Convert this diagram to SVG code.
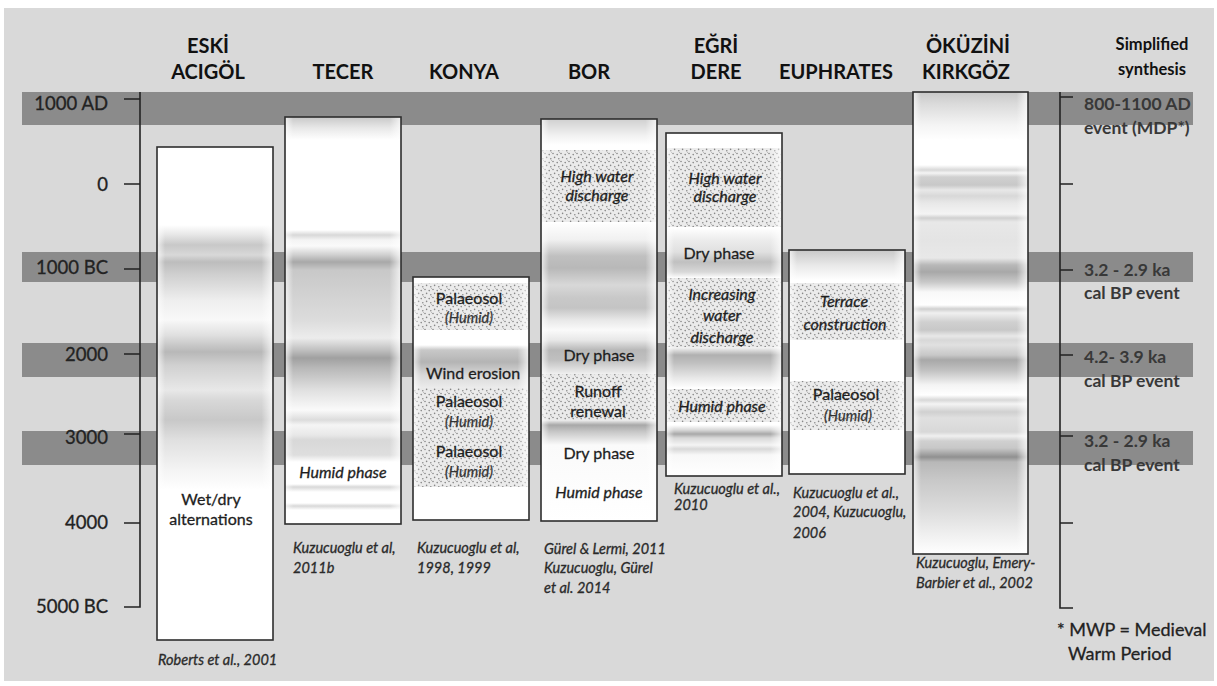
<svg xmlns="http://www.w3.org/2000/svg" width="1217" height="686" viewBox="0 0 1217 686">
<style>
text{font-family:Lato,"Open Sans","Liberation Sans",sans-serif;fill:#1e1e1e}
.hd{font-size:20px;font-weight:bold;text-anchor:middle;fill:#111}
.ax{font-size:18.5px;text-anchor:end;fill:#222;stroke:#222;stroke-width:0.3px}
.syn{font-size:17.5px;font-weight:bold;fill:#383838}
.t{font-size:16px;text-anchor:middle;stroke:#1e1e1e;stroke-width:0.3px}
.ti{font-size:16px;text-anchor:middle;font-style:italic;stroke:#1e1e1e;stroke-width:0.3px}
.hu{font-size:14.5px;text-anchor:middle;font-style:italic;fill:#333;stroke:#333;stroke-width:0.25px}
.cit{font-size:14.5px;font-style:italic;fill:#2a2a2a;stroke:#2a2a2a;stroke-width:0.3px}
.fn{font-size:18px;fill:#222;stroke:#222;stroke-width:0.3px}
.box{stroke:#2e2e2e;stroke-width:1.6}
.band{fill:#8b8b8b}
.line{stroke:#222;stroke-width:1.6;fill:none}
</style>
<defs>
<pattern id="dots" width="8" height="8" patternUnits="userSpaceOnUse">
<rect width="8" height="8" fill="#e9e9e9"/>
<circle cx="1" cy="1.5" r="0.8" fill="#7a7a7a"/>
<circle cx="5.2" cy="2.6" r="0.8" fill="#7a7a7a"/>
<circle cx="2.6" cy="5.4" r="0.8" fill="#7a7a7a"/>
<circle cx="6.8" cy="6.7" r="0.8" fill="#7a7a7a"/>
<circle cx="7.6" cy="0.3" r="0.55" fill="#9a9a9a"/>
</pattern>
<linearGradient id="edge" x1="0" y1="0" x2="1" y2="0">
<stop offset="0" stop-color="#fff" stop-opacity="0.7"/>
<stop offset="0.07" stop-color="#fff" stop-opacity="0"/>
<stop offset="0.9" stop-color="#fff" stop-opacity="0"/>
<stop offset="1" stop-color="#fff" stop-opacity="0.75"/>
</linearGradient>
<linearGradient id="gEski" gradientUnits="userSpaceOnUse" x1="0" y1="0" x2="0" y2="1000">
<stop offset="0.147" stop-color="#fff"/>
<stop offset="0.225" stop-color="#fff"/>
<stop offset="0.235" stop-color="#e6e6e6"/>
<stop offset="0.245" stop-color="#c8c8c8"/>
<stop offset="0.255" stop-color="#d8d8d8"/>
<stop offset="0.262" stop-color="#bdbdbd"/>
<stop offset="0.275" stop-color="#d0d0d0"/>
<stop offset="0.300" stop-color="#eeeeee"/>
<stop offset="0.320" stop-color="#f8f8f8"/>
<stop offset="0.335" stop-color="#e0e0e0"/>
<stop offset="0.352" stop-color="#b8b8b8"/>
<stop offset="0.365" stop-color="#d0d0d0"/>
<stop offset="0.390" stop-color="#e8e8e8"/>
<stop offset="0.400" stop-color="#d8d8d8"/>
<stop offset="0.420" stop-color="#c8c8c8"/>
<stop offset="0.440" stop-color="#e0e0e0"/>
<stop offset="0.470" stop-color="#f4f4f4"/>
<stop offset="0.490" stop-color="#fff"/>
<stop offset="0.640" stop-color="#fff"/>
</linearGradient>
<linearGradient id="gTecer" gradientUnits="userSpaceOnUse" x1="0" y1="0" x2="0" y2="1000">
<stop offset="0.117" stop-color="#c8c8c8"/>
<stop offset="0.128" stop-color="#e8e8e8"/>
<stop offset="0.140" stop-color="#fff"/>
<stop offset="0.230" stop-color="#fff"/>
<stop offset="0.235" stop-color="#d8d8d8"/>
<stop offset="0.240" stop-color="#f4f4f4"/>
<stop offset="0.246" stop-color="#fafafa"/>
<stop offset="0.255" stop-color="#cfcfcf"/>
<stop offset="0.262" stop-color="#a8a8a8"/>
<stop offset="0.270" stop-color="#c8c8c8"/>
<stop offset="0.290" stop-color="#d0d0d0"/>
<stop offset="0.320" stop-color="#dcdcdc"/>
<stop offset="0.338" stop-color="#ececec"/>
<stop offset="0.350" stop-color="#c0c0c0"/>
<stop offset="0.358" stop-color="#a0a0a0"/>
<stop offset="0.368" stop-color="#b8b8b8"/>
<stop offset="0.390" stop-color="#e0e0e0"/>
<stop offset="0.410" stop-color="#fafafa"/>
<stop offset="0.420" stop-color="#dcdcdc"/>
<stop offset="0.425" stop-color="#f5f5f5"/>
<stop offset="0.435" stop-color="#e8e8e8"/>
<stop offset="0.440" stop-color="#d8d8d8"/>
<stop offset="0.455" stop-color="#dedede"/>
<stop offset="0.462" stop-color="#fff"/>
<stop offset="0.484" stop-color="#fff"/>
<stop offset="0.487" stop-color="#d8d8d8"/>
<stop offset="0.492" stop-color="#fff"/>
<stop offset="0.503" stop-color="#fff"/>
<stop offset="0.506" stop-color="#d8d8d8"/>
<stop offset="0.510" stop-color="#fff"/>
<stop offset="0.524" stop-color="#fff"/>
</linearGradient>
<linearGradient id="gKonya" gradientUnits="userSpaceOnUse" x1="0" y1="0" x2="0" y2="1000">
<stop offset="0.277" stop-color="#fff"/>
<stop offset="0.345" stop-color="#fff"/>
<stop offset="0.350" stop-color="#c8c8c8"/>
<stop offset="0.362" stop-color="#b4b4b4"/>
<stop offset="0.375" stop-color="#d8d8d8"/>
<stop offset="0.387" stop-color="#eaeaea"/>
<stop offset="0.395" stop-color="#fff"/>
<stop offset="0.520" stop-color="#fff"/>
</linearGradient>
<linearGradient id="gBor" gradientUnits="userSpaceOnUse" x1="0" y1="0" x2="0" y2="1000">
<stop offset="0.119" stop-color="#d0d0d0"/>
<stop offset="0.135" stop-color="#f0f0f0"/>
<stop offset="0.145" stop-color="#fff"/>
<stop offset="0.222" stop-color="#fff"/>
<stop offset="0.240" stop-color="#f0f0f0"/>
<stop offset="0.256" stop-color="#c0c0c0"/>
<stop offset="0.268" stop-color="#b8b8b8"/>
<stop offset="0.285" stop-color="#d8d8d8"/>
<stop offset="0.298" stop-color="#c8c8c8"/>
<stop offset="0.308" stop-color="#c4c4c4"/>
<stop offset="0.320" stop-color="#e8e8e8"/>
<stop offset="0.330" stop-color="#fafafa"/>
<stop offset="0.340" stop-color="#e8e8e8"/>
<stop offset="0.350" stop-color="#b8b8b8"/>
<stop offset="0.360" stop-color="#c0c0c0"/>
<stop offset="0.372" stop-color="#e8e8e8"/>
<stop offset="0.378" stop-color="#fff"/>
<stop offset="0.420" stop-color="#f0f0f0"/>
<stop offset="0.425" stop-color="#a8a8a8"/>
<stop offset="0.432" stop-color="#c8c8c8"/>
<stop offset="0.445" stop-color="#fafafa"/>
<stop offset="0.521" stop-color="#fff"/>
</linearGradient>
<linearGradient id="gEgri" gradientUnits="userSpaceOnUse" x1="0" y1="0" x2="0" y2="1000">
<stop offset="0.133" stop-color="#fff"/>
<stop offset="0.228" stop-color="#fff"/>
<stop offset="0.240" stop-color="#ececec"/>
<stop offset="0.252" stop-color="#e0e0e0"/>
<stop offset="0.262" stop-color="#c0c0c0"/>
<stop offset="0.272" stop-color="#d8d8d8"/>
<stop offset="0.278" stop-color="#fff"/>
<stop offset="0.348" stop-color="#f0f0f0"/>
<stop offset="0.355" stop-color="#b0b0b0"/>
<stop offset="0.363" stop-color="#c0c0c0"/>
<stop offset="0.378" stop-color="#e8e8e8"/>
<stop offset="0.388" stop-color="#fff"/>
<stop offset="0.425" stop-color="#fff"/>
<stop offset="0.430" stop-color="#d8d8d8"/>
<stop offset="0.434" stop-color="#a8a8a8"/>
<stop offset="0.438" stop-color="#d8d8d8"/>
<stop offset="0.445" stop-color="#f4f4f4"/>
<stop offset="0.449" stop-color="#d8d8d8"/>
<stop offset="0.455" stop-color="#f8f8f8"/>
<stop offset="0.476" stop-color="#fff"/>
</linearGradient>
<linearGradient id="gEuph" gradientUnits="userSpaceOnUse" x1="0" y1="0" x2="0" y2="1000">
<stop offset="0.250" stop-color="#c8c8c8"/>
<stop offset="0.265" stop-color="#e8e8e8"/>
<stop offset="0.280" stop-color="#fff"/>
<stop offset="0.474" stop-color="#fff"/>
</linearGradient>
<linearGradient id="gOkuz" gradientUnits="userSpaceOnUse" x1="0" y1="0" x2="0" y2="1000">
<stop offset="0.092" stop-color="#c8c8c8"/>
<stop offset="0.105" stop-color="#dcdcdc"/>
<stop offset="0.125" stop-color="#f4f4f4"/>
<stop offset="0.140" stop-color="#fff"/>
<stop offset="0.165" stop-color="#fff"/>
<stop offset="0.170" stop-color="#d8d8d8"/>
<stop offset="0.173" stop-color="#f4f4f4"/>
<stop offset="0.177" stop-color="#d0d0d0"/>
<stop offset="0.185" stop-color="#c8c8c8"/>
<stop offset="0.190" stop-color="#e8e8e8"/>
<stop offset="0.196" stop-color="#d8d8d8"/>
<stop offset="0.203" stop-color="#e8e8e8"/>
<stop offset="0.214" stop-color="#f4f4f4"/>
<stop offset="0.218" stop-color="#d0d0d0"/>
<stop offset="0.222" stop-color="#e8e8e8"/>
<stop offset="0.240" stop-color="#e4e4e4"/>
<stop offset="0.258" stop-color="#e8e8e8"/>
<stop offset="0.265" stop-color="#b8b8b8"/>
<stop offset="0.272" stop-color="#a8a8a8"/>
<stop offset="0.282" stop-color="#c8c8c8"/>
<stop offset="0.292" stop-color="#f8f8f8"/>
<stop offset="0.305" stop-color="#fff"/>
<stop offset="0.309" stop-color="#d0d0d0"/>
<stop offset="0.313" stop-color="#f0f0f0"/>
<stop offset="0.322" stop-color="#d0d0d0"/>
<stop offset="0.330" stop-color="#c8c8c8"/>
<stop offset="0.336" stop-color="#e8e8e8"/>
<stop offset="0.340" stop-color="#d8d8d8"/>
<stop offset="0.345" stop-color="#e0e0e0"/>
<stop offset="0.355" stop-color="#c8c8c8"/>
<stop offset="0.360" stop-color="#a8a8a8"/>
<stop offset="0.370" stop-color="#c0c0c0"/>
<stop offset="0.385" stop-color="#f4f4f4"/>
<stop offset="0.395" stop-color="#fff"/>
<stop offset="0.400" stop-color="#d8d8d8"/>
<stop offset="0.404" stop-color="#f4f4f4"/>
<stop offset="0.412" stop-color="#d0d0d0"/>
<stop offset="0.418" stop-color="#e0e0e0"/>
<stop offset="0.432" stop-color="#d8d8d8"/>
<stop offset="0.436" stop-color="#f0f0f0"/>
<stop offset="0.441" stop-color="#d0d0d0"/>
<stop offset="0.448" stop-color="#c8c8c8"/>
<stop offset="0.452" stop-color="#b0b0b0"/>
<stop offset="0.457" stop-color="#909090"/>
<stop offset="0.462" stop-color="#b8b8b8"/>
<stop offset="0.480" stop-color="#c8c8c8"/>
<stop offset="0.510" stop-color="#dcdcdc"/>
<stop offset="0.540" stop-color="#f4f4f4"/>
<stop offset="0.554" stop-color="#fff"/>
</linearGradient>
</defs>

<rect x="0" y="0" width="1217" height="686" fill="#fff"/>
<rect x="4" y="8" width="1210" height="673" fill="#d9d9d9"/>

<g id="bands">
<rect class="band" x="22" y="92" width="1171" height="33"/>
<rect class="band" x="22" y="252" width="1171" height="30"/>
<rect class="band" x="22" y="343" width="1171" height="34"/>
<rect class="band" x="22" y="431" width="1171" height="34"/>
</g>

<g id="headers">
<text class="hd" x="208" y="53">ESKİ</text>
<text class="hd" x="208" y="79">ACIGÖL</text>
<text class="hd" x="343" y="79">TECER</text>
<text class="hd" x="464" y="79">KONYA</text>
<text class="hd" x="589" y="79">BOR</text>
<text class="hd" x="716" y="53">EĞRİ</text>
<text class="hd" x="716" y="79">DERE</text>
<text class="hd" x="836" y="79">EUPHRATES</text>
<text class="hd" x="968" y="53">ÖKÜZİNİ</text>
<text class="hd" x="966" y="79">KIRKGÖZ</text>
<text class="hd" x="1152" y="50" style="font-size:16.5px">Simplified</text>
<text class="hd" x="1152" y="75" style="font-size:16.5px">synthesis</text>
</g>

<g id="axes">
<path class="line" d="M140 92V607H124M124 99H140M124 184H140M124 269H140M124 354H140M124 434H140M124 523H140"/>
<path class="line" d="M1060 92V608H1073M1060 97H1073M1060 184H1073M1060 270H1073M1060 355H1073M1060 436H1073M1060 523H1073"/>
<text class="ax" x="108" y="110">1000 AD</text>
<text class="ax" x="108" y="191">0</text>
<text class="ax" x="108" y="274">1000 BC</text>
<text class="ax" x="108" y="361">2000</text>
<text class="ax" x="108" y="444">3000</text>
<text class="ax" x="108" y="529">4000</text>
<text class="ax" x="108" y="613">5000 BC</text>
</g>

<g id="col-eski">
<rect x="157" y="147" width="116" height="493" fill="url(#gEski)"/>
<rect x="157" y="147" width="116" height="493" fill="url(#edge)"/>
<rect class="box" x="157" y="147" width="116" height="493" fill="none"/>
<text class="t" x="211" y="505">Wet/dry</text>
<text class="t" x="211" y="525">alternations</text>
<text class="cit" x="158" y="665">Roberts et al., 2001</text>
</g>

<g id="col-tecer">
<rect x="285" y="117" width="116" height="407" fill="url(#gTecer)"/>
<rect x="285" y="117" width="116" height="407" fill="url(#edge)"/>
<rect class="box" x="285" y="117" width="116" height="407" fill="none"/>
<text class="ti" x="343" y="478">Humid phase</text>
<text class="cit" x="293" y="553">Kuzucuoglu et al,</text>
<text class="cit" x="293" y="573">2011b</text>
</g>

<g id="col-konya">
<rect x="413" y="277" width="116" height="243" fill="url(#gKonya)"/>
<rect x="414" y="283" width="114" height="47" fill="url(#dots)" opacity="0.9"/>
<rect x="414" y="388" width="114" height="99" fill="url(#dots)" opacity="0.9"/>
<rect x="413" y="277" width="116" height="243" fill="url(#edge)"/>
<rect class="box" x="413" y="277" width="116" height="243" fill="none"/>
<text class="t" x="469" y="304">Palaeosol</text>
<text class="hu" x="469" y="323">(Humid)</text>
<text class="t" x="473" y="379">Wind erosion</text>
<text class="t" x="469" y="407">Palaeosol</text>
<text class="hu" x="469" y="427">(Humid)</text>
<text class="t" x="469" y="457">Palaeosol</text>
<text class="hu" x="469" y="477">(Humid)</text>
<text class="cit" x="417" y="553">Kuzucuoglu et al,</text>
<text class="cit" x="417" y="573">1998, 1999</text>
</g>

<g id="col-bor">
<rect x="541" y="119" width="116" height="402" fill="url(#gBor)"/>
<rect x="542" y="150" width="114" height="72" fill="url(#dots)" opacity="0.9"/>
<rect x="542" y="374" width="114" height="46" fill="url(#dots)" opacity="0.9"/>
<rect x="541" y="119" width="116" height="402" fill="url(#edge)"/>
<rect class="box" x="541" y="119" width="116" height="402" fill="none"/>
<text class="ti" x="597" y="182">High water</text>
<text class="ti" x="597" y="201">discharge</text>
<text class="t" x="599" y="361">Dry phase</text>
<text class="t" x="598" y="397">Runoff</text>
<text class="t" x="598" y="417">renewal</text>
<text class="t" x="599" y="459">Dry phase</text>
<text class="ti" x="599" y="498">Humid phase</text>
<text class="cit" x="544" y="554">Gürel &amp; Lermi, 2011</text>
<text class="cit" x="544" y="573">Kuzucuoglu, Gürel</text>
<text class="cit" x="544" y="593">et al. 2014</text>
</g>

<g id="col-egri">
<rect x="666" y="133" width="116" height="343" fill="url(#gEgri)"/>
<rect x="667" y="148" width="114" height="79" fill="url(#dots)" opacity="0.9"/>
<rect x="667" y="278" width="114" height="69" fill="url(#dots)" opacity="0.9"/>
<rect x="667" y="389" width="114" height="33" fill="url(#dots)" opacity="0.9"/>
<rect x="666" y="133" width="116" height="343" fill="url(#edge)"/>
<rect class="box" x="666" y="133" width="116" height="343" fill="none"/>
<text class="ti" x="725" y="184">High water</text>
<text class="ti" x="725" y="202">discharge</text>
<text class="t" x="719" y="259">Dry phase</text>
<text class="ti" x="722" y="300">Increasing</text>
<text class="ti" x="722" y="321">water</text>
<text class="ti" x="722" y="343">discharge</text>
<text class="ti" x="722" y="412">Humid phase</text>
<text class="cit" x="674" y="494">Kuzucuoglu et al.,</text>
<text class="cit" x="674" y="510">2010</text>
</g>

<g id="col-euphrates">
<rect x="789" y="250" width="116" height="224" fill="url(#gEuph)"/>
<rect x="790" y="283" width="114" height="57" fill="url(#dots)" opacity="0.9"/>
<rect x="790" y="381" width="114" height="49" fill="url(#dots)" opacity="0.9"/>
<rect x="789" y="250" width="116" height="224" fill="url(#edge)"/>
<rect class="box" x="789" y="250" width="116" height="224" fill="none"/>
<text class="ti" x="844" y="307">Terrace</text>
<text class="ti" x="845" y="330">construction</text>
<text class="t" x="846" y="400">Palaeosol</text>
<text class="hu" x="848" y="421">(Humid)</text>
<text class="cit" x="793" y="498">Kuzucuoglu et al.,</text>
<text class="cit" x="793" y="517">2004, Kuzucuoglu,</text>
<text class="cit" x="793" y="538">2006</text>
</g>

<g id="col-okuzini">
<rect x="913" y="92" width="115" height="462" fill="url(#gOkuz)"/>
<rect x="913" y="92" width="115" height="462" fill="url(#edge)"/>
<rect class="box" x="913" y="92" width="115" height="462" fill="none"/>
<text class="cit" x="916" y="568">Kuzucuoglu, Emery-</text>
<text class="cit" x="916" y="588">Barbier et al., 2002</text>
</g>

<g id="synthesis">
<text class="syn" x="1084" y="110">800-1100 AD</text>
<text class="syn" x="1084" y="134">event (MDP*)</text>
<text class="syn" x="1084" y="276">3.2 - 2.9 ka</text>
<text class="syn" x="1084" y="299">cal BP event</text>
<text class="syn" x="1084" y="363">4.2- 3.9 ka</text>
<text class="syn" x="1084" y="387">cal BP event</text>
<text class="syn" x="1084" y="447">3.2 - 2.9 ka</text>
<text class="syn" x="1084" y="471">cal BP event</text>
<text class="fn" x="1057" y="636">* MWP = Medieval</text>
<text class="fn" x="1068" y="660">Warm Period</text>
</g>
</svg>
